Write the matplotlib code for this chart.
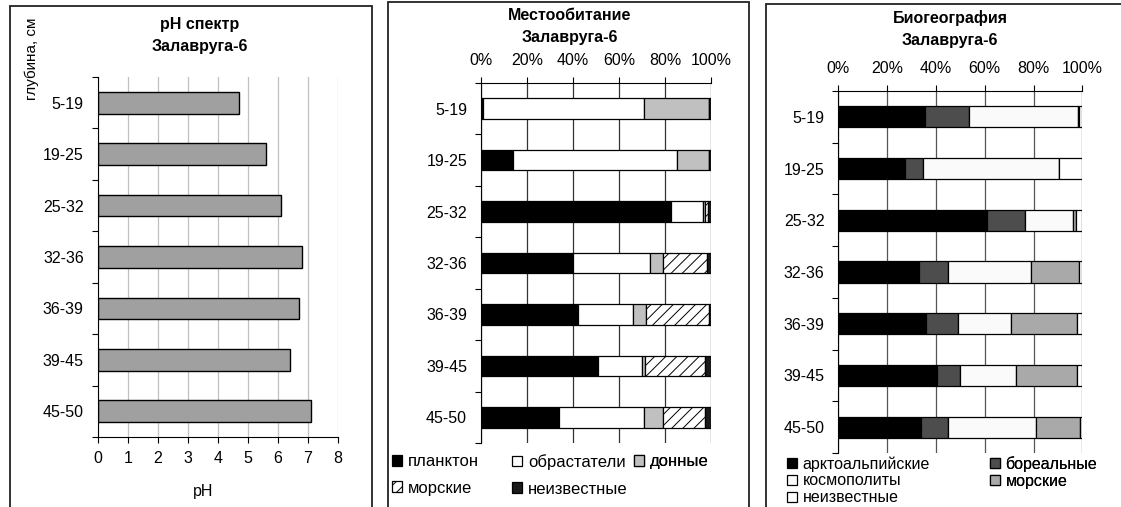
import matplotlib
matplotlib.use('Agg')
import matplotlib.pyplot as plt
from matplotlib.patches import Rectangle
from matplotlib.ticker import PercentFormatter, FixedLocator
import numpy as np

plt.rcParams.update({'font.family': ['Liberation Sans', 'DejaVu Sans'], 'font.size': 11,
                     'hatch.linewidth': 0.7})

W, H = 1121, 507

# ---- data ----
depths = ['5-19', '19-25', '25-32', '32-36', '36-39', '39-45', '45-50']
ph = [4.7, 5.6, 6.1, 6.8, 6.7, 6.4, 7.1]

hab_labels = ['планктон', 'обрастатели', 'донные', 'морские', 'неизвестные']
hab_plankton = [0.7, 14.1, 82.6, 39.9, 42.0, 51.0, 33.8]
hab_fouling = [70.2, 71.3, 14.1, 33.6, 23.9, 19.1, 37.1]
hab_benthic = [28.4, 13.9, 0.6, 5.8, 5.7, 1.2, 8.4]
hab_marine = [0.0, 0.0, 1.2, 18.8, 27.4, 26.2, 18.2]
hab_unknown = [0.7, 0.7, 1.5, 1.9, 1.0, 2.5, 2.5]

bio_labels = ['арктоальпийские', 'бореальные', 'космополиты', 'морские', 'неизвестные']
bio_arcto = [35.5, 27.3, 60.9, 33.2, 35.8, 40.4, 33.9]
bio_boreal = [18.1, 7.5, 15.7, 11.6, 13.4, 9.3, 10.9]
bio_cosmo = [44.6, 55.8, 19.7, 34.2, 21.4, 23.2, 36.1]
bio_marine = [0.4, 0.0, 1.0, 19.8, 27.4, 25.0, 18.1]
bio_unknown = [1.4, 9.4, 2.7, 1.2, 2.0, 2.1, 1.0]

fig = plt.figure(figsize=(W / 100, H / 100), dpi=100)
fig.patch.set_facecolor('white')


def px_axes(x0, x1, ytop, ybot):
    return fig.add_axes([x0 / W, 1 - ybot / H, (x1 - x0) / W, (ybot - ytop) / H])


def frame(x0, x1, ytop):
    fig.add_artist(Rectangle((x0 / W, -0.05), (x1 - x0) / W, 1.05 - ytop / H,
                             transform=fig.transFigure, fill=False, lw=1.3, ec='#222'))


def cat_axis(ax):
    y = np.arange(len(depths))
    ax.set_ylim(len(depths) - 0.5, -0.5)
    ax.set_yticks(y)
    ax.set_yticklabels(depths, fontsize=11.5)
    ax.yaxis.set_minor_locator(FixedLocator(np.arange(-0.5, len(depths), 1.0)))
    ax.tick_params(axis='y', which='major', length=0, pad=10)
    ax.tick_params(axis='y', which='minor', length=4, width=0.8, direction='out')
    ax.set_axisbelow(True)


def col_legend(ax, handles, labels, x, y, spacing, size):
    leg = ax.legend(handles, labels, loc='upper left', bbox_to_anchor=(x / W, 1 - y / H),
                    bbox_transform=fig.transFigure, frameon=False, fontsize=size,
                    handlelength=0.62, handleheight=0.62, handletextpad=0.35,
                    borderpad=0, borderaxespad=0, labelspacing=spacing)
    ax.add_artist(leg)


def title(x, y1, y2, t):
    fig.text(x / W, 1 - y1 / H, t, ha='center', va='center', fontsize=11.5, fontweight='bold')
    fig.text(x / W, 1 - y2 / H, 'Залавруга-6', ha='center', va='center', fontsize=11.5,
             fontweight='bold')


# ============ pH ============
frame(10, 371.5, 6)
ax1 = px_axes(97.7, 337.7, 77, 437)
y = np.arange(len(depths))
ax1.barh(y, ph, height=0.42, color='#a0a0a0', edgecolor='black', linewidth=1)
cat_axis(ax1)
ax1.set_xlim(0, 8)
ax1.set_xticks(range(9))
ax1.tick_params(axis='x', length=4, width=0.8, labelsize=11.5, pad=6)
ax1.grid(axis='x', color='#c0c0c0', linewidth=0.9)
for s in ['top', 'right']:
    ax1.spines[s].set_visible(False)
ax1.set_xlabel('pH', fontsize=11.5)
ax1.xaxis.set_label_coords(0.44, -0.13)
title(200, 25, 47, 'pH спектр')
fig.text(32 / W, 1 - 18 / H, 'глубина, см', rotation=90, ha='center', va='top', fontsize=11)

# ============ habitat ============
frame(388, 749, 2)
ax2 = px_axes(481, 711, 83, 443)
hab = [hab_plankton, hab_fouling, hab_benthic, hab_marine, hab_unknown]
hab_colors = ['black', 'white', '#c0c0c0', 'white', '#1a1a1a']
hab_hatch = [None, None, None, '///', None]
left = np.zeros(len(depths))
hab_bars = []
for vals, c, h, lab in zip(hab, hab_colors, hab_hatch, hab_labels):
    b = ax2.barh(y, vals, left=left, height=0.4, color=c, edgecolor='black',
                 linewidth=0.9, hatch=h, label=lab)
    hab_bars.append(b)
    left += np.array(vals)
cat_axis(ax2)
ax2.set_xlim(0, 100)
ax2.set_xticks(range(0, 101, 20))
ax2.xaxis.set_major_formatter(PercentFormatter(decimals=0))
ax2.xaxis.tick_top()
ax2.tick_params(axis='x', length=4, width=0.8, labelsize=11.5, pad=7)
ax2.grid(axis='x', color='#333333', linewidth=0.9)
for s in ['bottom', 'right']:
    ax2.spines[s].set_visible(False)
title(570, 16, 38, 'Местообитание')
col_legend(ax2, [hab_bars[0], hab_bars[3]], [hab_labels[0], hab_labels[3]], 392, 454, 0.7, 12)
col_legend(ax2, [hab_bars[1], hab_bars[4]], [hab_labels[1], hab_labels[4]], 512, 454, 0.7, 12)
col_legend(ax2, [hab_bars[2]], [hab_labels[2]], 634, 454, 0.7, 12)

# ============ biogeography ============
frame(766, 1130, 4)
ax3 = px_axes(838.3, 1082.3, 91, 453)
bio = [bio_arcto, bio_boreal, bio_cosmo, bio_marine, bio_unknown]
bio_colors = ['black', '#4d4d4d', '#fafafa', '#a9a9a9', 'white']
left = np.zeros(len(depths))
bio_bars = []
for vals, c, lab in zip(bio, bio_colors, bio_labels):
    b = ax3.barh(y, vals, left=left, height=0.41, color=c, edgecolor='black',
                 linewidth=0.9, label=lab)
    bio_bars.append(b)
    left += np.array(vals)
cat_axis(ax3)
ax3.set_xlim(0, 100)
ax3.set_xticks(range(0, 101, 20))
ax3.xaxis.set_major_formatter(PercentFormatter(decimals=0))
ax3.xaxis.tick_top()
ax3.tick_params(axis='x', length=4, width=0.8, labelsize=11.5, pad=7)
ax3.grid(axis='x', color='#555555', linewidth=0.9)
for s in ['bottom', 'right']:
    ax3.spines[s].set_visible(False)
title(950, 18, 40, 'Биогеография')
col_legend(ax3, [bio_bars[0], bio_bars[2], bio_bars[4]],
           [bio_labels[0], bio_labels[2], bio_labels[4]], 787, 456, 0.12, 11.5)
col_legend(ax3, [bio_bars[1], bio_bars[3]], [bio_labels[1], bio_labels[3]], 990, 456, 0.12, 11.5)

fig.savefig('out.png', dpi=100)
